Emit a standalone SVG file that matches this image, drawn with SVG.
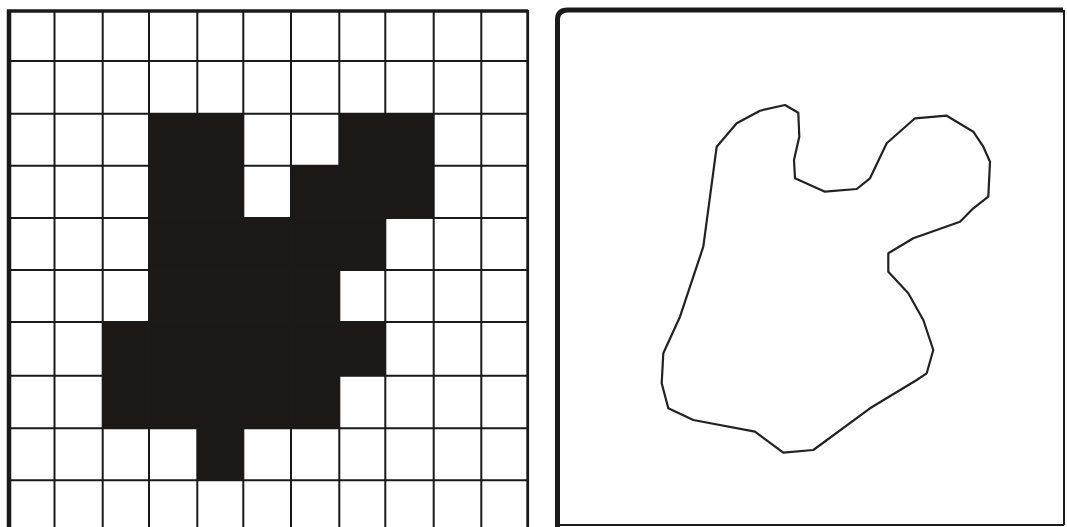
<svg xmlns="http://www.w3.org/2000/svg" width="1067" height="527" viewBox="0 0 1067 527">
<style>
.cell{fill:#1c1816}
.g{stroke:#1a1a1a;stroke-width:2;fill:none}
.frame{stroke:#1a1a1a;fill:none}
.blob{stroke:#222;stroke-width:2.2;fill:none;stroke-linejoin:round}
</style>
<rect width="1067" height="527" fill="#fff"/>
<g id="grid-panel">
<g id="black-cells">
<rect class="cell" x="149" y="113.7" width="94.3" height="52"/>
<rect class="cell" x="339.3" y="113.7" width="94.4" height="52"/>
<rect class="cell" x="149" y="165.7" width="94.3" height="52.3"/>
<rect class="cell" x="291" y="165.7" width="142.7" height="52.3"/>
<rect class="cell" x="149" y="218" width="236.3" height="52"/>
<rect class="cell" x="149" y="270" width="190.3" height="52"/>
<rect class="cell" x="102.7" y="322" width="282.6" height="53.7"/>
<rect class="cell" x="102.7" y="375.7" width="236.6" height="52.6"/>
<rect class="cell" x="197.3" y="428.3" width="46" height="52"/>
</g>
<path class="g" d="M54.5 10V527M102.7 10V527M149 10V527M197.3 10V527M243.3 10V527M291 10V527M339.3 10V527M385.3 10V527M433.7 10V527M481.3 10V527M8 61H528M8 113.7H528M8 165.7H528M8 218H528M8 270H528M8 322H528M8 375.7H528M8 428.3H528M8 480.3H528"/>
<path class="frame" stroke-width="4.5" d="M9 527V10"/>
<path class="frame" stroke-width="3.5" d="M7 11H528"/>
<path class="frame" stroke-width="2.8" d="M527.7 10V527"/>
</g>
<g id="outline-panel">
<path class="frame" stroke-width="5" d="M557.5 527V20Q557.5 10 567.5 10H1063"/>
<path class="frame" stroke-width="2" stroke="#555" d="M1064 10V525M557 525H1064"/>
<polygon class="blob" points="716.7,146.7 736.7,123.3 760,110.7 785,105 798.3,112.7 799.3,136.7 794,160 795,178.3 825,191.7 856.7,189 870,178.3 886.7,143.3 915,118.3 946.7,115.7 973.3,131.7 983.3,146.7 990,161.7 988.3,196.7 973.3,208.3 960,221.7 913.3,238.3 888.3,253.3 888.3,271.7 908.3,293.3 923.3,320 933.3,350 926.7,373.3 916.7,380 870,408.3 813.3,450 783.3,452.7 755,431.7 693.3,420 668.3,408.3 661.7,383.3 663.3,353.3 680,316.7 703.3,246.7"/>
</g>
</svg>
